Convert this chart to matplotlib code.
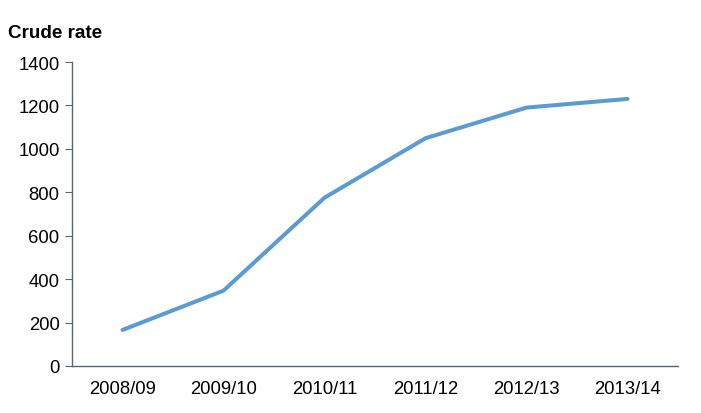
import matplotlib
matplotlib.use("Agg")
import matplotlib.pyplot as plt

categories = ["2008/09", "2009/10", "2010/11", "2011/12", "2012/13", "2013/14"]
crude_rate = [166, 347, 775, 1049, 1190, 1230]
yticks = [0, 200, 400, 600, 800, 1000, 1200, 1400]

plt.rcParams['font.family'] = ['Liberation Sans', 'DejaVu Sans']

fig = plt.figure(figsize=(7.01, 4.14), dpi=100)
ax = fig.add_axes([72/701, 47/414, 606/701, 304/414])

x = list(range(len(categories)))
ax.plot(x, crude_rate, color='#5b9bd5', linewidth=2.9, solid_capstyle='round', solid_joinstyle='round')

ax.set_xlim(-0.5, len(categories) - 0.5)
ax.set_ylim(0, 1400)
ax.set_yticks(yticks)
ax.set_yticklabels([str(v) for v in yticks], fontsize=13.3)
ax.set_xticks(x)
ax.set_xticklabels(categories, fontsize=13.3)

for s in ['top', 'right']:
    ax.spines[s].set_visible(False)
for s in ['left', 'bottom']:
    ax.spines[s].set_color('#5a6478')
    ax.spines[s].set_linewidth(1.0)

ax.tick_params(axis='y', direction='out', length=5, color='#5a6478', pad=4)
ax.tick_params(axis='x', length=0, pad=10)

fig.text(8/701, 1 - 33/414, "Crude rate", fontsize=13.6, fontweight='bold', va='center', ha='left')

fig.savefig("out.png", dpi=100)
